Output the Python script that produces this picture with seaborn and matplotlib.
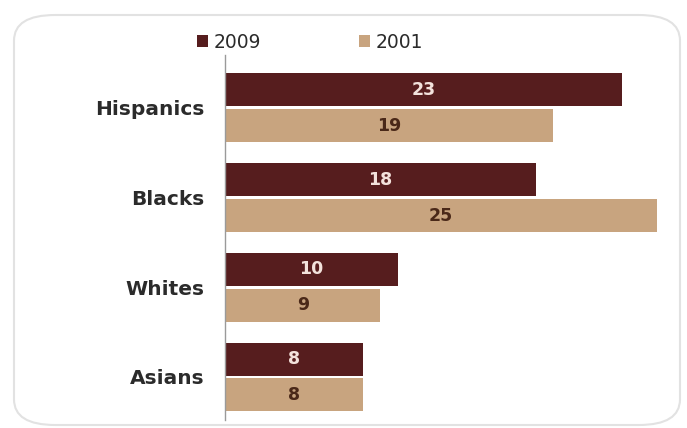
import matplotlib
matplotlib.use("Agg")
import matplotlib.pyplot as plt
import seaborn as sns
import pandas as pd
from matplotlib.patches import FancyBboxPatch

groups = ["Hispanics", "Blacks", "Whites", "Asians"]
years = ["2009", "2001"]
values_2009 = [23, 18, 10, 8]
values_2001 = [19, 25, 9, 8]

df = pd.DataFrame({
    "group": groups * 2,
    "year": ["2009"] * 4 + ["2001"] * 4,
    "value": values_2009 + values_2001,
})

sns.set_style("white")
plt.rcParams["font.family"] = ["DejaVu Sans"]

fig = plt.figure(figsize=(6.87, 4.28), dpi=100)
ax = fig.add_axes([225 / 687, 1 - 420 / 428, (662 - 225) / 687, (420 - 55) / 428])

palette = {"2009": "#561d1e", "2001": "#c8a47f"}
sns.barplot(data=df, y="group", x="value", hue="year", order=groups, hue_order=years,
            palette=palette, orient="h", width=0.8, gap=0.08, saturation=1,
            edgecolor="none", ax=ax)

ax.set_xlim(0, 25.3)
ax.set_ylim(3.48, -0.59)
ax.set_xlabel("")
ax.set_ylabel("")
ax.set_xticks([])
for s in ["top", "right", "bottom"]:
    ax.spines[s].set_visible(False)
ax.spines["left"].set_color("#9a9a9a")
ax.spines["left"].set_linewidth(1.0)
ax.tick_params(axis="y", length=0, pad=15)
for lbl in ax.get_yticklabels():
    lbl.set_fontsize(14.5)
    lbl.set_fontweight("bold")
    lbl.set_color("#2b2b2b")

text_colors = {"2009": "#f3e2dc", "2001": "#4a2818"}
for container, yr in zip(ax.containers, years):
    ax.bar_label(container, label_type="center", fontsize=12.5, fontweight="bold",
                 color=text_colors[yr])

sns.move_legend(ax, "center", bbox_to_anchor=(310 / 687, 1 - 42 / 428),
                bbox_transform=fig.transFigure, ncol=2, frameon=False, title=None,
                fontsize=13.5, columnspacing=5.2, handlelength=0.62, handleheight=0.62,
                handletextpad=0.3)
for t in ax.get_legend().get_texts():
    t.set_color("#2b2b2b")

border = FancyBboxPatch((14 / 687, 1 - 425 / 428), (680 - 14) / 687, (425 - 15) / 428,
                        boxstyle="round,pad=0,rounding_size=0.06",
                        transform=fig.transFigure, facecolor="none",
                        edgecolor="#e2e2e2", linewidth=1.5, zorder=-1)
fig.patches.append(border)

fig.savefig("out.png", dpi=100)
